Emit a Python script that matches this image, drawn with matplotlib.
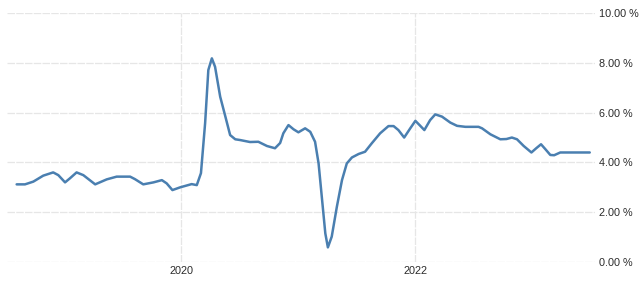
import matplotlib
matplotlib.use("Agg")
import matplotlib.pyplot as plt
import matplotlib.dates as mdates
import matplotlib.ticker as mticker
import pandas as pd

# datas
datas = ["2018-08-06", "2018-09-01", "2018-09-27", "2018-10-28", "2018-11-28",
         "2018-12-14", "2019-01-04", "2019-01-19", "2019-02-09", "2019-03-02",
         "2019-04-08", "2019-05-14", "2019-06-14", "2019-07-26", "2019-08-10",
         "2019-09-05", "2019-10-07", "2019-11-02", "2019-11-17", "2019-12-05",
         "2019-12-29", "2020-02-03", "2020-02-19", "2020-03-03", "2020-03-16",
         "2020-03-26", "2020-04-06", "2020-04-16", "2020-05-02", "2020-05-17",
         "2020-06-02", "2020-06-18", "2020-07-03", "2020-08-03", "2020-08-29",
         "2020-09-25", "2020-10-20", "2020-11-05", "2020-11-15", "2020-12-01",
         "2020-12-17", "2021-01-01", "2021-01-22", "2021-02-07", "2021-02-22",
         "2021-03-05", "2021-03-15", "2021-03-26", "2021-04-03", "2021-04-15",
         "2021-05-01", "2021-05-17", "2021-06-01", "2021-06-17", "2021-07-08",
         "2021-07-28", "2021-08-18", "2021-09-13", "2021-10-09", "2021-10-25",
         "2021-11-09", "2021-11-27", "2021-12-16", "2022-01-01", "2022-01-14",
         "2022-01-29", "2022-02-16", "2022-03-04", "2022-03-25", "2022-04-20",
         "2022-05-11", "2022-06-06", "2022-07-17", "2022-07-28", "2022-08-23",
         "2022-09-23", "2022-10-12", "2022-10-29", "2022-11-14", "2022-12-05",
         "2022-12-29", "2023-01-13", "2023-01-28", "2023-02-10", "2023-02-26",
         "2023-03-10", "2023-03-29", "2023-05-20", "2023-06-29"]

# taxa em %
valores = [3.12, 3.12, 3.23, 3.47, 3.60,
           3.49, 3.20, 3.36, 3.60, 3.49,
           3.12, 3.32, 3.43, 3.43, 3.33,
           3.12, 3.20, 3.29, 3.16, 2.89,
           3.00, 3.13, 3.09, 3.57, 5.58,
           7.71, 8.18, 7.84, 6.64, 5.90,
           5.10, 4.93, 4.90, 4.82, 4.83,
           4.66, 4.57, 4.78, 5.17, 5.50,
           5.33, 5.21, 5.37, 5.23, 4.83,
           3.96, 2.62, 1.15, 0.59, 1.02,
           2.22, 3.29, 3.96, 4.20, 4.34,
           4.43, 4.77, 5.17, 5.46, 5.46,
           5.30, 5.00, 5.37, 5.67, 5.50,
           5.30, 5.70, 5.93, 5.84, 5.60,
           5.47, 5.43, 5.43, 5.37, 5.13,
           4.93, 4.94, 5.00, 4.93, 4.66,
           4.40, 4.57, 4.73, 4.54, 4.30,
           4.29, 4.40, 4.40, 4.40]

x = pd.to_datetime(datas)

plt.rcParams["font.family"] = ["Liberation Sans", "DejaVu Sans"]

fig = plt.figure(figsize=(6.4, 2.83), dpi=100)
ax = fig.add_axes([0.011, 0.074, 0.919, 0.880])

ax.plot(x, valores, color="#4a7fb0", linewidth=1.8, solid_capstyle="round",
        solid_joinstyle="round")

ax.set_ylim(0, 10)
ax.set_xlim(pd.Timestamp("2018-07-07"), pd.Timestamp("2023-07-16"))

ax.yaxis.set_major_locator(mticker.MultipleLocator(2))
ax.yaxis.set_major_formatter(mticker.FuncFormatter(lambda v, p: "%.2f %%" % v))
ax.yaxis.tick_right()

ax.xaxis.set_major_locator(mdates.YearLocator(2))
ax.xaxis.set_major_formatter(mdates.DateFormatter("%Y"))

ax.grid(True, color="#e6e6e6", linewidth=0.9, linestyle=(0, (6, 1)))
ax.set_axisbelow(True)
for s in ax.spines.values():
    s.set_visible(False)
ax.tick_params(axis="both", length=0, labelsize=7.8, colors="#2b2b2b")
ax.tick_params(axis="y", pad=3)
ax.tick_params(axis="x", pad=3)

fig.savefig("out.png", dpi=100)
